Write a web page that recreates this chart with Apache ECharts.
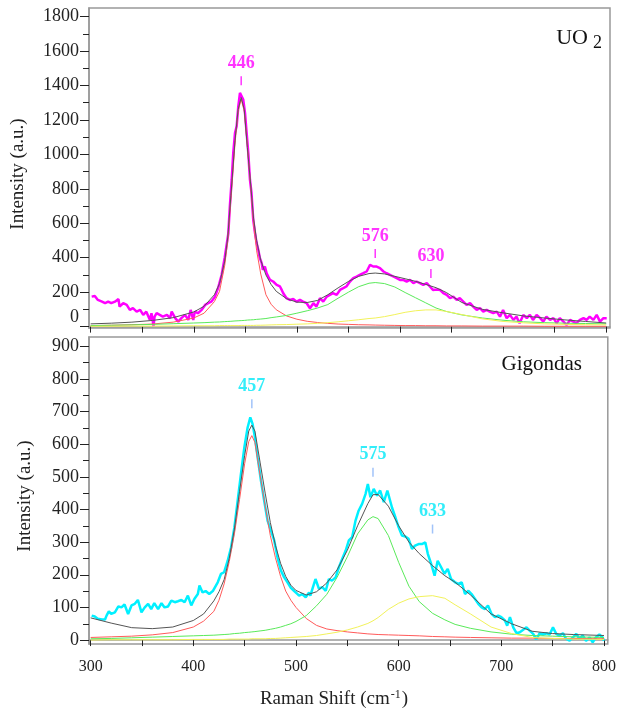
<!DOCTYPE html>
<html>
<head>
<meta charset="utf-8">
<script src="https://cdn.jsdelivr.net/npm/echarts@6/dist/echarts.min.js"></script>
<style>
  html, body { margin: 0; padding: 0; background: #fff; }
  #main { width: 619px; height: 710px; }
</style>
</head>
<body>
<div id="main"></div>
<script>
// UO2 measured spectrum (Raman shift, intensity)
var uo2Shift = [301,304,307,311,314,317,320,323.6,327,328,331.6,335,338,341,344.6,348,351,354,357.5,359,361,362,364,367,370,374,377,378.6,382,385,388,391.5,394.7,397,399.5,401,404,407.7,411,414,417,420.6,423.8,427,430,433.5,435,436.8,438.3,440,441.6,443.2,444.8,446.4,448,449.7,451.3,452.9,454.5,456,457.7,459.4,461,462.6,464,465.9,467,469,470.7,472.3,474,475.6,477,478.8,480.4,482,483.6,485.3,486.8,488.5,490,491.7,493.3,496.5,499.8,503,506,509.5,512.7,516,519,522.4,525.6,529,532,535,538.6,541.8,545,548,551.5,554.7,558,561,564.4,567.7,571,574,577.4,580.6,584,587,590.3,593.5,596.8,600,603,606.5,609.7,613,616,619.4,622.6,626,629,632,635.6,638.8,642,645.3,648.5,651.7,655,658,661.4,664.6,668,671,674.4,677.6,680.8,684,687,690.5,693.8,697,700,703.5,706.7,710,713,716,719.6,723,726,729,732.5,736,739,742,745.5,748.8,752,755,758.5,761.7,765,768,771,774.5,778,781,784,787.6,790.8,794,797.3,800.5];
var uo2Intensity = [174,178,155,145,136,145,136,145,160,117,136,126,97,107,87,97,68,87,39,78,4,58,78,68,58,68,49,87,49,29,49,68,39,97,39,87,78,97,126,136,145,174,228,300,400,540,698,853,1008,1124,1163,1279,1357,1366,1318,1241,1124,1008,853,776,620,543,485,446,400,369,330,349,310,291,271,271,262,252,242,250,233,213,194,194,165,174,155,160,145,155,145,136,107,136,116,165,145,174,184,194,184,213,223,233,262,281,291,301,310,320,359,349,349,340,320,310,301,291,281,271,271,262,271,252,262,252,242,252,233,213,215,213,194,184,165,174,155,165,145,126,136,116,97,107,87,97,87,78,87,58,97,49,68,39,58,20,68,49,68,39,68,49,29,58,39,49,20,49,29,10,39,29,20,39,49,39,58,39,68,29,49,49];

// UO2 fitted curves
var uo2FitShift = [300,320,340,360,380,400,410,420,425,430,433,436,440,443,446,449,452,455,458,461,465,470,475,480,490,500,510,520,530,540,550,560,570,576,585,595,605,615,625,635,645,660,680,700,720,740,760,780,800];
var uo2Sum     = [16,20,26,36,52,85,118,185,250,380,520,760,1080,1260,1330,1260,1040,840,630,500,385,300,245,205,162,142,140,152,185,225,262,292,308,311,306,292,278,263,245,226,198,140,100,80,62,50,39,30,21];
var uo2Band446 = [6,8,11,15,26,50,78,145,205,355,500,740,1060,1250,1320,1250,1050,830,600,440,305,185,130,98,62,43,31,24,19,15,13,11,10,9,8,7,6,6,5,5,4,4,3,3,3,2,2,2,2];
var uo2Band576 = [6,8,10,13,17,21,23,26,27,29,30,31,33,34,35,36,38,39,40,42,44,47,52,56,65,78,92,108,128,165,200,232,252,256,250,230,198,168,138,108,88,68,50,37,28,23,20,18,16];
var uo2Band630 = [2,2,3,3,4,5,5,5,6,6,6,6,6,6,7,7,7,7,7,8,8,9,10,11,12,14,16,19,23,28,34,40,47,50,58,70,83,92,97,97,88,70,45,30,22,16,13,11,10];

// Gigondas measured spectrum
var gigShift = [301,304,307,311,314,315.5,317.7,320,323.6,327,330,333,336.5,339.8,343,346,349.5,352.7,356,359,362,365.7,369,372,375.4,378.6,382,385,388.4,391.5,394.7,398,401,404.4,406,409,412,415.5,419,422,423.8,427,430,433.5,436.8,440,443.2,446.4,449.7,452.9,455.5,457.7,460,462.6,465.9,469,472.3,475.6,478.8,482,485.3,488.5,491.7,495,498,501,503,506,509.5,512.7,514,516,519,522.4,525.6,529,532,535,538.6,541.8,545,548.4,551.5,554.7,558,561,564.4,567.7,570,572.5,575.7,579,582,585.5,589,593.5,596.8,600,603.2,606.5,609.7,613,616,619.4,622.6,626,628.4,631.7,635,638,641.4,644.6,647.8,651,655,658,661.4,664.6,668,671,674.4,677.6,680.8,684,687,690.5,693.8,697,700,703.5,705.7,708.4,711.6,714.8,718,721,724.5,727.6,731,734,737.4,740.6,744,747,750.3,753.5,756.7,760,763,766.5,769.7,773,776,779.3,782.5,786,789,792,795.5,798.7,800];
var gigIntensity = [75,72,65,63,63,75,88,80,85,103,100,109,80,106,111,123,85,100,111,95,113,95,113,100,103,121,116,119,123,116,136,106,126,141,167,146,150,141,150,167,177,203,208,243,284,345,427,509,590,651,682,662,621,560,488,427,366,335,305,253,213,192,177,160,151,142,136,141,131,146,136,157,187,157,162,151,187,182,192,223,248,274,305,315,366,396,417,447,478,437,463,442,458,422,458,406,376,345,320,317,310,279,289,294,294,299,264,233,197,243,223,203,218,187,177,172,177,141,151,141,126,111,100,95,106,80,70,75,70,60,44,70,39,21,24,31,39,29,19,2,21,17,21,17,39,19,14,21,4,-2,8,19,4,14,-2,8,-7,8,17,8,-2];

// Gigondas fitted curves
var gigFitShift = [300,320,340,360,380,400,410,420,425,430,435,440,445,450,454,457,460,465,470,475,480,485,490,495,500,510,520,530,540,550,560,570,575,580,590,600,610,620,633,645,655,670,690,710,730,750,770,800];
var gigSum     = [68,52,38,35,40,60,80,120,148,185,250,340,455,565,640,658,640,545,450,360,290,235,195,168,152,138,148,175,215,275,350,418,445,446,410,350,300,265,228,197,177,138,80,50,27,20,17,14];
var gigBand457 = [8,10,12,16,23,40,58,88,122,172,240,325,430,540,608,626,605,505,410,320,252,195,150,122,100,66,45,34,29,25,22,19,18,17,16,15,14,13,11,10,9,8,7,6,6,5,5,4];
var gigBand575 = [4,5,7,9,11,13,14,15,16,17,18,20,21,23,24,25,26,28,30,33,36,40,45,50,57,75,105,140,192,255,325,368,378,372,320,238,165,118,82,62,48,36,25,18,14,12,10,8];
var gigBand633 = [0,1,1,1,1,2,2,2,2,2,3,3,3,3,3,4,4,4,4,5,5,6,7,8,9,11,14,19,24,31,40,51,59,69,94,113,126,133,136,128,108,80,40,20,8,5,3,2];

// peak annotations
var uo2Peaks = ['446', '576', '630'];
var uo2PeakShift = [446, 576, 630];
var uo2PeakMark = [1427, 425, 309];
var gigPeaks = ['457', '575', '633'];
var gigPeakShift = [457, 575, 633];
var gigPeakMark = [724, 514, 340];

// axis ticks
var shiftTicks = [300,350,400,450,500,550,600,650,700,750,800];
var shiftLabels = [300,400,500,600,700,800];
var uo2Major = [0,200,400,600,800,1000,1200,1400,1600,1800];
var uo2Minor = [100,300,500,700,900,1100,1300,1500,1700];
var gigMajor = [0,100,200,300,400,500,600,700,800,900];
var gigMinor = [50,150,250,350,450,550,650,750,850];

var serif = '"Liberation Serif", "DejaVu Serif", serif';

function zip(xs, ys) {
    var out = [];
    for (var i = 0; i < xs.length; i++) out.push([xs[i], ys[i]]);
    return out;
}
function peakData(names, xs, ys) {
    var out = [];
    for (var i = 0; i < xs.length; i++) out.push({name: names[i], value: [xs[i], ys[i]]});
    return out;
}
function plain(v) {
    return String(v);
}
function lineSeries(idx, xs, ys, color, width, z) {
    return {
        type: 'line', xAxisIndex: idx, yAxisIndex: idx * 2,
        data: zip(xs, ys), symbol: 'none', silent: true, z: z,
        lineStyle: {color: color, width: width}
    };
}
function peakSeries(idx, names, xs, ys, tickColor, textColor) {
    return {
        type: 'scatter', xAxisIndex: idx, yAxisIndex: idx * 2,
        data: peakData(names, xs, ys), symbol: 'rect', symbolSize: [1.5, 9],
        itemStyle: {color: tickColor}, z: 10,
        label: {
            show: true, position: 'top', distance: 4, formatter: '{b}',
            color: textColor, fontFamily: serif, fontWeight: 'bold', fontSize: 18
        }
    };
}
function shiftAxis(idx, showLabels) {
    return {
        type: 'value', gridIndex: idx, min: 298.4, max: 803.7,
        axisLine: {show: true, lineStyle: {color: '#999', width: 1.5}},
        axisTick: {show: true, customValues: shiftTicks, length: 6, lineStyle: {color: '#222'}},
        axisLabel: {
            show: showLabels, customValues: shiftLabels, margin: 15, formatter: plain,
            color: '#222', fontFamily: serif, fontSize: 16
        },
        splitLine: {show: false}
    };
}
function intensityAxes(idx, min, max, major, minor) {
    return [{
        type: 'value', gridIndex: idx, min: min, max: max, position: 'left',
        axisLine: {show: true, lineStyle: {color: '#999', width: 1.5}},
        axisTick: {show: true, customValues: major, length: 9, lineStyle: {color: '#222'}},
        axisLabel: {
            customValues: major, margin: 10, formatter: plain,
            color: '#222', fontFamily: serif, fontSize: 18,
            verticalAlignMinLabel: idx === 0 ? 'bottom' : null
        },
        splitLine: {show: false}
    }, {
        type: 'value', gridIndex: idx, min: min, max: max, position: 'left', offset: 0,
        axisLine: {show: false},
        axisTick: {show: true, customValues: minor, length: 6, lineStyle: {color: '#222'}},
        axisLabel: {show: false},
        splitLine: {show: false}
    }];
}

var chart = echarts.init(document.getElementById('main'), null, {renderer: 'canvas'});
var option = {
    backgroundColor: '#fff',
    animation: false,
    grid: [
        {left: 89, right: 9, top: 8, height: 320, show: true, borderColor: '#999', borderWidth: 1.5},
        {left: 89, right: 9, top: 337, height: 307, show: true, borderColor: '#999', borderWidth: 1.5}
    ],
    xAxis: [shiftAxis(0, false), shiftAxis(1, true)],
    yAxis: intensityAxes(0, -8, 1850, uo2Major, uo2Minor).concat(intensityAxes(1, -12, 928, gigMajor, gigMinor)),
    graphic: [
        {type: 'text', x: 18, y: 174, rotation: Math.PI / 2,
         style: {text: 'Intensity (a.u.)', fill: '#222', font: '19px ' + serif, align: 'center', verticalAlign: 'middle'}},
        {type: 'text', x: 25, y: 496, rotation: Math.PI / 2,
         style: {text: 'Intensity (a.u.)', fill: '#222', font: '19px ' + serif, align: 'center', verticalAlign: 'middle'}},
        {type: 'text', x: 334, y: 699,
         style: {
             text: '{a|Raman Shift (cm}{s|-1}{a|)}', align: 'center', verticalAlign: 'middle',
             rich: {
                 a: {fill: '#222', fontFamily: serif, fontSize: 19},
                 s: {fill: '#222', fontFamily: serif, fontSize: 12, padding: [0, 1, 9, 1]}
             }
         }},
        {type: 'text', x: 602, y: 38,
         style: {
             text: '{a|UO}{s|2}', align: 'right', verticalAlign: 'middle',
             rich: {
                 a: {fill: '#111', fontFamily: serif, fontSize: 22},
                 s: {fill: '#111', fontFamily: serif, fontSize: 18, padding: [10, 0, 0, 5]}
             }
         }},
        {type: 'text', x: 582, y: 364,
         style: {text: 'Gigondas', fill: '#111', font: '21px ' + serif, align: 'right', verticalAlign: 'middle'}}
    ],
    series: [
        lineSeries(0, uo2Shift, uo2Intensity, '#ff00ff', 2.5, 2),
        lineSeries(0, uo2FitShift, uo2Band446, '#ff5a5a', 1, 3),
        lineSeries(0, uo2FitShift, uo2Band576, '#5aea5a', 1, 3),
        lineSeries(0, uo2FitShift, uo2Band630, '#f2f25a', 1, 3),
        lineSeries(0, uo2FitShift, uo2Sum, '#555555', 1, 4),
        peakSeries(0, uo2Peaks, uo2PeakShift, uo2PeakMark, '#ff00ff', '#ff00ff'),

        lineSeries(1, gigShift, gigIntensity, '#00f0ff', 2.5, 2),
        lineSeries(1, gigFitShift, gigBand457, '#ff5a5a', 1, 3),
        lineSeries(1, gigFitShift, gigBand575, '#5aea5a', 1, 3),
        lineSeries(1, gigFitShift, gigBand633, '#f2f25a', 1, 3),
        lineSeries(1, gigFitShift, gigSum, '#555555', 1, 4),
        peakSeries(1, gigPeaks, gigPeakShift, gigPeakMark, '#8ab4f8', '#00e8f8')
    ]
};
chart.setOption(option);
</script>
</body>
</html>
